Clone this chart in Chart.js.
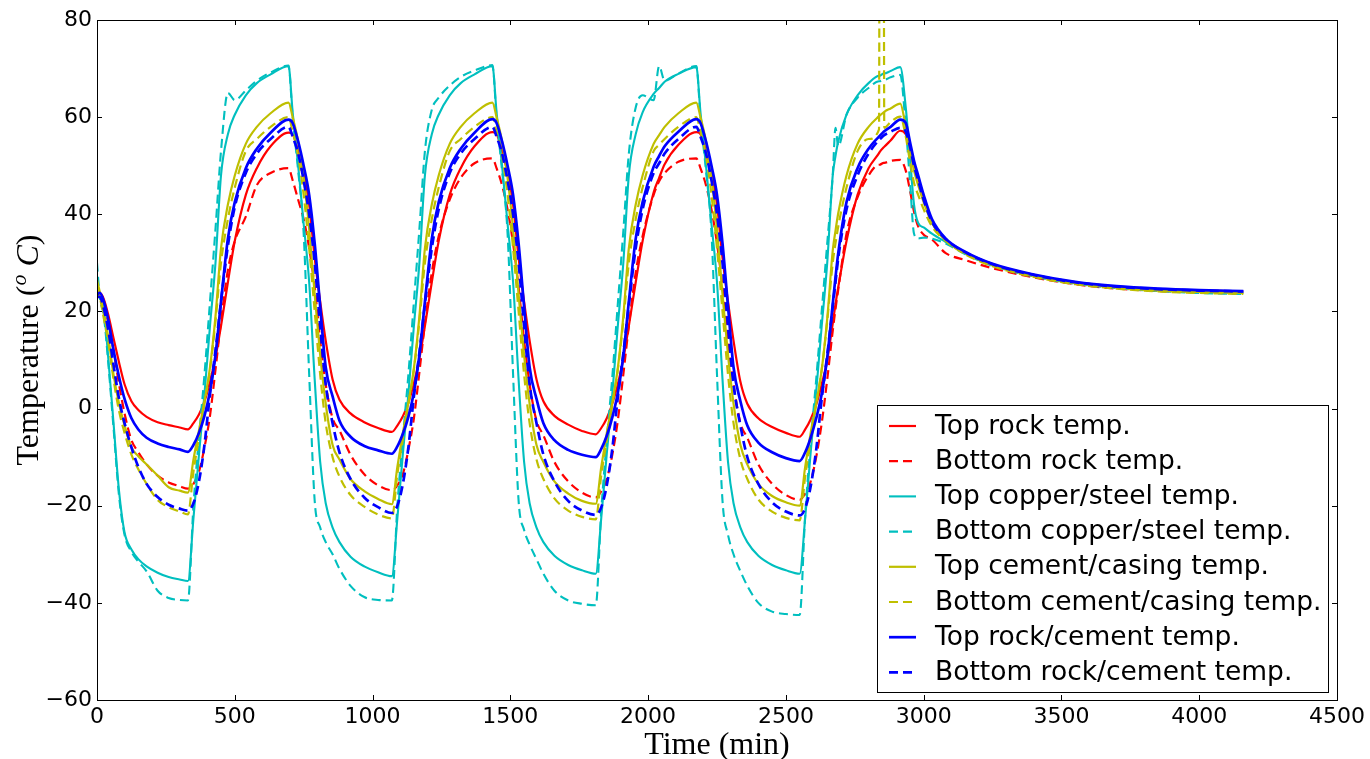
<!DOCTYPE html>
<html>
<head>
<meta charset="utf-8">
<script src="https://cdn.jsdelivr.net/npm/chart.js@4.4.1/dist/chart.umd.min.js"></script>
<style>
body { margin: 0; background: #fff; }
canvas { display: block; }
</style>
</head>
<body>
<canvas id="mainGraph" width="1370" height="759"></canvas>
<script>
// time axis shared by every series (min)
var timeMin = [
    0, 10, 25, 40, 60, 80, 100, 125, 150, 180, 220, 260, 300,
    330, 350, 370, 390, 410, 430, 450, 475, 500, 540, 580, 630, 695,
    710, 730, 750, 770, 790, 810, 830, 855, 880, 920, 970, 1020,
    1070, 1090, 1110, 1130, 1150, 1170, 1190, 1215, 1240, 1280, 1320, 1370, 1435,
    1450, 1470, 1490, 1510, 1530, 1550, 1570, 1595, 1620, 1660, 1710, 1760,
    1810, 1830, 1850, 1870, 1890, 1910, 1930, 1955, 1980, 2020, 2040, 2060, 2110, 2175,
    2190, 2210, 2230, 2250, 2270, 2290, 2310, 2335, 2360, 2400, 2450, 2500,
    2550, 2570, 2590, 2610, 2630, 2650, 2670, 2680, 2690, 2720, 2760, 2800, 2838, 2840, 2855, 2857, 2880, 2915,
    2935, 2950, 2965, 2980, 3000, 3030, 3080, 3150, 3250, 3400, 3550, 3700, 3850, 4000, 4160
];

var topRock = [
    23.5, 23.8, 22.5, 19.5, 14.5, 9.5, 5, 1.5, -0.3, -1.7, -2.8, -3.4, -3.9,
    -4.3, -3.0, -1.2, 1.5, 5.5, 10.5, 17, 26, 34.5, 44, 49.5, 54, 56.8,
    56.5, 53, 48.5, 42, 31, 22, 14, 6, 1.8, -1, -2.8, -4,
    -4.8, -3.5, -1.6, 1.2, 5.2, 10.3, 17, 26, 34.5, 44, 49.5, 54, 56.9,
    56.5, 53, 48.5, 42, 31, 22, 14, 6, 1.5, -1.5, -3.3, -4.6,
    -5.3, -4, -2, 1, 5, 10.2, 17, 26, 34.5, 44.5, 47.5, 50.3, 54.3, 56.9,
    56.5, 53, 48.5, 42, 31, 22, 14, 5.5, 1, -2, -3.8, -5,
    -5.8, -4.3, -2.2, 0.8, 5, 10, 17.5, 21.5, 25, 34.5, 44, 49.5, 52.6, 52.8, 53.8, 53.9, 55.2, 57.2,
    56.5, 54, 50.5, 47.5, 43.5, 38.5, 34.7, 32.2, 29.7, 27.5, 26, 25.1, 24.6, 24.3, 24.1
];

var bottomRock = [
    23, 23.5, 21.5, 18, 12, 5, -1, -6.5, -9, -11.5, -13.8, -15.2, -16,
    -16.5, -15.5, -13, -8, -1.5, 8, 18, 28.5, 34.5, 39.5, 46, 48.5, 49.5,
    47, 43, 39, 33, 25, 14, 5, -2, -4.5, -9.5, -13.5, -15.8,
    -16.8, -15.8, -13.5, -8.5, -2, 7.5, 17.5, 28, 35.5, 43, 47.5, 50.5, 51.5,
    49.5, 46, 41, 34, 25, 14, 5, -2.5, -5.5, -11, -15, -17.3,
    -18.3, -17, -14.5, -9.5, -2.5, 7, 17, 28, 35.5, 44, 46.8, 48.5, 50.8, 51.5,
    49.5, 46, 41, 34, 25, 14, 5, -3, -6, -11.5, -15.5, -17.8,
    -18.8, -17.5, -15, -10, -3, 6, 16, 20.5, 24.5, 36, 43.5, 48, 50.2, 50.2, 50.6, 50.6, 51, 51.2,
    49, 45, 40.5, 37.5, 35.8, 34.8, 32, 30.6, 28.9, 27, 25.6, 24.7, 24.2, 23.9, 23.7
];

var topCopperSteel = [
    24, 23.5, 20.5, 11, -3, -17, -25.5, -29, -31, -32.5, -33.8, -34.7, -35.2,
    -35.5, -22.6, -9.5, 3, 17, 30, 48, 56.5, 60.5, 64.5, 67, 68.8, 70.5,
    61, 50, 38, 26, 6, -11, -19.5, -24.5, -27.5, -30.5, -32.5, -33.7,
    -34.5, -22.6, -9.3, 3, 17, 30, 48, 56.5, 60.5, 64.5, 67, 68.8, 70.5,
    61, 50, 38, 26, 6, -11, -19.5, -24.5, -27.5, -30.3, -32.2, -33.3,
    -34, -22.5, -9.3, 3, 17, 30, 48, 56.5, 61, 64.8, 66, 67.3, 68.9, 70.3,
    61, 50, 38, 26, 6, -11, -19.5, -24.5, -27.5, -30.3, -32.2, -33.3,
    -34, -22.5, -9, 3.5, 17, 30, 48, 52, 55, 60.5, 64.5, 67, 68.5, 68.5, 69, 69, 69.5, 70.3,
    62, 52, 42, 38.2, 37.3, 36, 34.3, 32, 29.6, 27.4, 25.9, 25, 24.4, 24, 23.8
];

var bottomCopperSteel = [
    30, 23, 19, 10, -4, -18, -26, -29.5, -31.5, -33.5, -37.5, -39, -39.4,
    -39.5, -20, -6, 7, 22, 37, 53, 65, 63.5, 65.5, 67.5, 69.2, 70.6,
    60, 49, 36, 7, -19, -24.5, -27.5, -30, -33, -36.5, -38.8, -39.4,
    -39.5, -20, -6, 7, 22, 37, 53, 61.5, 64, 66.5, 68.3, 69.6, 70.7,
    60, 49, 36, 7, -19, -25, -28, -31, -34, -37.5, -39.5, -40.2,
    -40.5, -21, -6.5, 6.5, 21.5, 36.5, 52.5, 62, 64.5, 63.5, 70.5, 67.5, 69, 70.5,
    60, 49, 36, 7, -19, -26, -30, -33.5, -36.5, -40, -41.8, -42.3,
    -42.5, -22, -7, 6, 20, 34, 48, 57.8, 54, 60.5, 64, 66, 67.4, 67.4, 67.7, 67.7, 68.2, 68.7,
    58, 47, 36, 35, 35.2, 35, 34, 31.8, 29.4, 27.2, 25.7, 24.8, 24.2, 23.8, 23.6
];

var topCementCasing = [
    26.5, 24, 19.5, 15, 7, 1, -3.5, -8, -9.8, -11.5, -13.8, -16.2, -16.9,
    -17.3, -10.5, -4.5, 1.5, 8.5, 19, 33, 42, 48, 54.5, 58, 60.8, 63,
    60, 55, 47.5, 37, 23.5, 11, 1, -7.5, -10.5, -14.5, -17, -18.6,
    -19.7, -12, -5, 1.2, 8.3, 19, 33, 42, 48, 54.5, 58, 60.8, 63,
    60, 55, 47.5, 37, 23.5, 11, 1, -7.5, -11, -15, -17.5, -19,
    -19.6, -12, -5, 1.2, 8.3, 19, 33, 42, 48, 54.5, 56.3, 58, 60.8, 63,
    60, 55, 47.5, 37, 23.5, 11, 1, -7.5, -11.5, -15.5, -18, -19.3,
    -20, -12, -5, 1, 8, 18.5, 32.5, 36.6, 40.2, 48, 54.5, 58, 60.2, 60.3, 61, 61.1, 61.8, 62.8,
    58, 53.5, 49, 46, 42.5, 38.2, 34.6, 32, 29.5, 27.3, 25.8, 24.9, 24.3, 24, 23.8
];

var bottomCementCasing = [
    25, 23, 18.5, 14, 6, -0.5, -5, -9.5, -12.5, -15.5, -18.8, -20.3, -21.2,
    -21.8, -13, -6, 1, 8, 18, 30, 39, 45.5, 53, 55.5, 58, 60,
    57, 52, 44, 33, 20, 7, -3, -10, -14, -17.8, -20.2, -21.8,
    -22.6, -13.5, -6.3, 0.8, 8, 18, 30, 39, 45.5, 53, 55.5, 58, 60,
    57, 52, 44, 33, 20, 7, -3, -10.5, -14.5, -18.5, -21, -22.3,
    -22.8, -13.7, -6.5, 0.7, 8, 18, 30, 39, 45.5, 53, 54.3, 55.5, 58, 60,
    57, 52, 44, 33, 20, 7, -3, -10.5, -14.5, -18.7, -21.2, -22.5,
    -23, -14, -6.5, 1, 8, 18, 30, 34, 37.5, 45.5, 53, 55.5, 57.5, 100, 100, 57.8, 59, 60.1,
    56, 51, 46.5, 44, 41, 37.5, 34.5, 31.8, 29.3, 27.1, 25.6, 24.7, 24.1, 23.8, 23.6
];

var topRockCement = [
    23.5, 23.8, 22, 18.5, 12, 6.5, 2, -2, -4.3, -6, -7.2, -7.9, -8.4,
    -8.9, -7.5, -5, -1.5, 3.5, 11, 22, 35, 42.5, 49.5, 53.5, 56.8, 59.5,
    58.8, 55, 50, 44, 34, 21, 8.5, 2.5, -2.5, -5.8, -7.7, -8.6,
    -9.3, -7.8, -5.2, -1.7, 3.3, 11, 22, 35, 42.5, 49.5, 53.5, 56.8, 59.6,
    58.8, 55, 50, 44, 34, 21, 8.5, 2, -3, -6.5, -8.5, -9.5,
    -10, -8.3, -5.6, -1.8, 3.2, 10.8, 22, 35, 42.5, 49.8, 52, 54, 57, 59.6,
    58.8, 55, 50, 44, 34, 21, 8.5, 1.5, -3.5, -7, -9, -10.2,
    -10.8, -9, -6, -2, 3, 10.5, 21.5, 27, 32, 42.5, 49.5, 53.5, 56, 56.1, 57, 57.1, 58, 59.5,
    58.8, 55, 51, 48, 44, 39, 35, 32.3, 29.8, 27.6, 26.1, 25.2, 24.7, 24.4, 24.2
];

var bottomRockCement = [
    23, 23, 20.5, 16.5, 9, 2, -3, -8, -12, -15.5, -18.2, -19.8, -20.6,
    -21, -19.5, -15, -7.5, 3, 12, 22, 33.5, 41.5, 48.5, 52.5, 55.5, 58,
    56, 52.5, 47, 40, 30, 17, 5, -3, -9, -14.5, -18.3, -20.3,
    -21.5, -20, -15.5, -8, 2.5, 11.5, 21.5, 33, 41, 48.5, 52.5, 55.5, 58,
    56, 52.5, 47, 40, 30, 17, 5, -3, -9.5, -15, -19, -21,
    -21.9, -20.3, -15.8, -8.3, 2.3, 11.3, 21.3, 33, 41, 48.5, 50.5, 52.5, 55.5, 58,
    56, 52.5, 47, 40, 30, 17, 5, -3.5, -10, -15.5, -19.3, -21.2,
    -22, -20.5, -16, -8.5, 2, 11, 21, 26, 31, 41, 48, 52.5, 55.3, 55.4, 56.2, 56.3, 57, 57.8,
    57, 54, 50, 47, 43, 38.5, 34.9, 32.2, 29.7, 27.5, 26, 25.1, 24.6, 24.3, 24.1
];

var seriesLabels = ['Top rock temp.', 'Bottom rock temp.', 'Top copper/steel temp.', 'Bottom copper/steel temp.',
    'Top cement/casing temp.', 'Bottom cement/casing temp.', 'Top rock/cement temp.', 'Bottom rock/cement temp.'];
var seriesValues = [topRock, bottomRock, topCopperSteel, bottomCopperSteel,
    topCementCasing, bottomCementCasing, topRockCement, bottomRockCement];

var xTickValues = [0, 500, 1000, 1500, 2000, 2500, 3000, 3500, 4000, 4500];
var yTickValues = [-60, -40, -20, 0, 20, 40, 60, 80];

// style only
var seriesColors = ['#ff0000', '#ff0000', '#00bfbf', '#00bfbf', '#bfbf00', '#bfbf00', '#0000ff', '#0000ff'];
var seriesDashed = [false, true, false, true, false, true, false, true];
var seriesWidths = [2.2, 2.2, 2.1, 2.1, 2.2, 2.2, 2.7, 2.7];
var DASH = [9, 5];

function minus(v) {
    return String(v).replace('-', '\u2212');
}

var datasets = [];
for (var i = 0; i < seriesValues.length; i++) {
    var pts = [];
    for (var j = 0; j < timeMin.length; j++) {
        pts.push({ x: timeMin[j], y: seriesValues[i][j] });
    }
    datasets.push({
        label: seriesLabels[i],
        data: pts,
        borderColor: seriesColors[i],
        backgroundColor: seriesColors[i],
        borderWidth: seriesWidths[i],
        borderDash: seriesDashed[i] ? DASH : [],
        pointRadius: 0,
        fill: false,
        cubicInterpolationMode: 'monotone',
        order: seriesValues.length - i
    });
}

var mplFrame = {
    id: 'mplFrame',
    afterDatasetsDraw: function (chart) {
        var ctx = chart.ctx;
        var a = chart.chartArea;
        var xs = chart.scales.x, ys = chart.scales.y;
        ctx.save();

        // axes box + inward ticks on all sides
        ctx.strokeStyle = '#000';
        ctx.lineWidth = 1;
        ctx.strokeRect(a.left + 0.5, a.top + 0.5, a.right - a.left, a.bottom - a.top);
        ctx.beginPath();
        xTickValues.forEach(function (v) {
            var px = Math.round(xs.getPixelForValue(v)) + 0.5;
            ctx.moveTo(px, a.bottom); ctx.lineTo(px, a.bottom - 5);
            ctx.moveTo(px, a.top); ctx.lineTo(px, a.top + 5);
        });
        yTickValues.forEach(function (v) {
            var py = Math.round(ys.getPixelForValue(v)) + 0.5;
            ctx.moveTo(a.left, py); ctx.lineTo(a.left + 5, py);
            ctx.moveTo(a.right, py); ctx.lineTo(a.right - 5, py);
        });
        ctx.stroke();

        // tick labels
        ctx.fillStyle = '#000';
        ctx.font = '22px "DejaVu Sans"';
        ctx.textAlign = 'center';
        ctx.textBaseline = 'alphabetic';
        xTickValues.forEach(function (v) {
            ctx.fillText(minus(v), xs.getPixelForValue(v), a.bottom + 23);
        });
        ctx.textAlign = 'right';
        ctx.textBaseline = 'middle';
        yTickValues.forEach(function (v) {
            ctx.fillText(minus(v), a.left - 5, ys.getPixelForValue(v));
        });

        // axis titles
        ctx.textBaseline = 'alphabetic';
        ctx.textAlign = 'center';
        ctx.font = '32px "Liberation Serif"';
        ctx.fillText('Time (min)', (a.left + a.right) / 2, 754);

        var parts = [
            { t: 'Temperature (', f: '32px "Liberation Serif"', dy: 0 },
            { t: 'o', f: 'italic 22px "Liberation Serif"', dy: -12 },
            { t: ' ', f: '32px "Liberation Serif"', dy: 0 },
            { t: 'C', f: 'italic 32px "Liberation Serif"', dy: 0 },
            { t: ')', f: '32px "Liberation Serif"', dy: 0 }
        ];
        var total = 0;
        parts.forEach(function (p) { ctx.font = p.f; p.w = ctx.measureText(p.t).width; total += p.w; });
        ctx.save();
        ctx.translate(38, 350);
        ctx.rotate(-Math.PI / 2);
        ctx.textAlign = 'left';
        var cx = -total / 2;
        parts.forEach(function (p) {
            ctx.font = p.f;
            ctx.fillText(p.t, cx, p.dy);
            cx += p.w;
        });
        ctx.restore();

        // legend box in lower right
        var lx = 877.5, ly = 405.5, lw = 451, lh = 287;
        ctx.fillStyle = '#fff';
        ctx.fillRect(lx, ly, lw, lh);
        ctx.strokeStyle = '#000';
        ctx.lineWidth = 1;
        ctx.strokeRect(lx, ly, lw, lh);
        ctx.font = '26.5px "DejaVu Sans"';
        ctx.textAlign = 'left';
        ctx.textBaseline = 'alphabetic';
        chart.data.datasets.forEach(function (ds, k) {
            var base = 433.5 + k * 35.2;
            ctx.beginPath();
            ctx.strokeStyle = ds.borderColor;
            ctx.lineWidth = ds.borderWidth;
            ctx.setLineDash(ds.borderDash);
            ctx.moveTo(889, base - 7.5);
            ctx.lineTo(916, base - 7.5);
            ctx.stroke();
            ctx.setLineDash([]);
            ctx.fillStyle = '#000';
            ctx.fillText(ds.label, 935, base);
        });
        ctx.restore();
    }
};

var ctx = document.getElementById('mainGraph').getContext('2d');
var chart = new Chart(ctx, {
    type: 'line',
    data: { datasets: datasets },
    options: {
        responsive: false,
        devicePixelRatio: 1,
        animation: false,
        events: [],
        layout: { padding: { top: 20, right: 33, left: 0, bottom: 0 } },
        plugins: {
            legend: { display: false },
            tooltip: { enabled: false }
        },
        scales: {
            x: {
                type: 'linear', min: 0, max: 4500,
                ticks: { display: false, stepSize: 500 },
                grid: { display: false, drawTicks: false },
                border: { display: false },
                afterFit: function (s) { s.height = 59; }
            },
            y: {
                type: 'linear', min: -60, max: 80,
                ticks: { display: false, stepSize: 20 },
                grid: { display: false, drawTicks: false },
                border: { display: false },
                afterFit: function (s) { s.width = 97; }
            }
        }
    },
    plugins: [mplFrame]
});
</script>
</body>
</html>
